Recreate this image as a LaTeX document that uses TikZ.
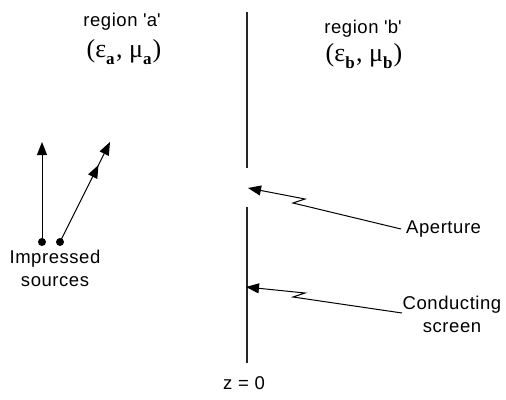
\documentclass[tikz,border=0pt]{standalone}
\usepackage{fontspec}
\setmainfont{Liberation Sans}
\newfontfamily\grk{Liberation Serif}
\newfontfamily\lblfont[LetterSpace=3]{Liberation Sans}
\usetikzlibrary{arrows.meta,decorations.markings}
\newcommand{\sq}{\textquotesingle}
\newcommand{\subl}[1]{\raisebox{-7pt}{\fontsize{17}{17}\selectfont\bfseries #1}}
\begin{document}
\begin{tikzpicture}[x=1pt,y=-1pt,
  lbl/.style={font=\lblfont\fontsize{18.5}{22}\selectfont, inner sep=0pt, align=center},
  par/.style={inner sep=0pt},
  screenline/.style={line width=1.6pt, black!85},
  pointer/.style={line width=1pt, -{Triangle[length=13pt,width=10pt]}},
  src/.style={line width=1pt, -{Triangle[length=13pt,width=10pt]}},
  dot/.style={circle, fill=black, inner sep=0pt, minimum size=8pt}]
\useasboundingbox (0,0) rectangle (506,399);
% screen
\coordinate (s1) at (247,12);
\coordinate (s2) at (247,168);
\coordinate (s3) at (247,207);
\coordinate (s4) at (247,363);
\draw[screenline] (s1) -- (s2);
\draw[screenline] (s3) -- (s4);
% region labels
\node[lbl] (ra) at (122,22) {region \sq a\sq};
\node[par] (pa) at (124,52) {\grk\fontsize{26}{28}\selectfont (ε\subl{a}\kern1.5pt, μ\subl{a}\kern1pt)};
\node[lbl] (rb) at (363,29) {region \sq b\sq};
\node[par] (pb) at (364,56) {\grk\fontsize{26}{28}\selectfont (ε\subl{b}\kern1.5pt, μ\subl{b}\kern1pt)};
% sources
\node[dot] (d1) at (42,242) {};
\node[dot] (d2) at (60,242) {};
\coordinate (t1) at (42,142);
\coordinate (t2) at (110,142);
\draw[src] (d1.center) -- (t1);
\draw[src, decoration={markings, mark=at position 0.77 with {\arrow{Triangle[length=13pt,width=10pt]}}}, postaction={decorate}] (d2.center) -- (t2);
\node[lbl] (imp) at (55,268) {Impressed\\[1pt]sources};
% aperture
\node[lbl, anchor=west] (ap) at (406,229) {Aperture};
\coordinate (aptip) at (248,188);
\draw[pointer] (ap.west) ++(-5,0) -- (293,203) -- (305,199) -- (aptip);
% conducting screen
\node[lbl] (cs) at (452,314) {Conducting\\[1pt]screen};
\coordinate (cstip) at (246,287);
\draw[pointer] (402,313) -- (293,297) -- (305,293) -- (cstip);
% z = 0
\node[lbl] (z) at (244,383) {z = 0};
\end{tikzpicture}
\end{document}
